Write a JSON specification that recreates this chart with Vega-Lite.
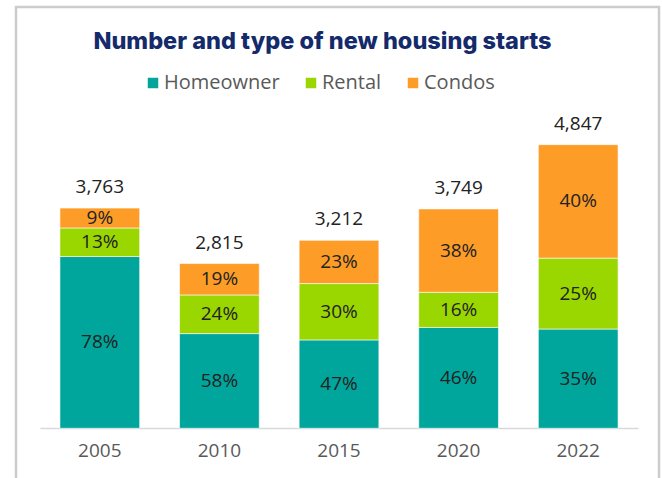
{
  "$schema": "https://vega.github.io/schema/vega-lite/v6.json",
  "width": 643,
  "height": 471,
  "autosize": {"type": "none"},
  "padding": {"left": 16, "top": 7, "right": 3, "bottom": 0},
  "background": "white",
  "config": {
    "font": "Open Sans",
    "view": {"stroke": "#cccccc", "strokeWidth": 2.5, "strokeDash": [1114, 643]}
  },
  "title": {
    "text": "Number and type of new housing starts",
    "orient": "top",
    "anchor": "middle",
    "frame": "group",
    "offset": -46,
    "dx": -15,
    "font": "Inter",
    "fontSize": 23.5,
    "fontWeight": 800,
    "color": "#142a6b"
  },
  "datasets": {
    "segments": [
      {"year": "2005", "type": "Homeowner", "order": 1, "value": 2935, "pct": "78%"},
      {"year": "2005", "type": "Rental", "order": 2, "value": 489, "pct": "13%"},
      {"year": "2005", "type": "Condos", "order": 3, "value": 339, "pct": "9%"},
      {"year": "2010", "type": "Homeowner", "order": 1, "value": 1618, "pct": "58%"},
      {"year": "2010", "type": "Rental", "order": 2, "value": 661, "pct": "24%"},
      {"year": "2010", "type": "Condos", "order": 3, "value": 536, "pct": "19%"},
      {"year": "2015", "type": "Homeowner", "order": 1, "value": 1510, "pct": "47%"},
      {"year": "2015", "type": "Rental", "order": 2, "value": 963, "pct": "30%"},
      {"year": "2015", "type": "Condos", "order": 3, "value": 739, "pct": "23%"},
      {"year": "2020", "type": "Homeowner", "order": 1, "value": 1724, "pct": "46%"},
      {"year": "2020", "type": "Rental", "order": 2, "value": 600, "pct": "16%"},
      {"year": "2020", "type": "Condos", "order": 3, "value": 1425, "pct": "38%"},
      {"year": "2022", "type": "Homeowner", "order": 1, "value": 1696, "pct": "35%"},
      {"year": "2022", "type": "Rental", "order": 2, "value": 1212, "pct": "25%"},
      {"year": "2022", "type": "Condos", "order": 3, "value": 1939, "pct": "40%"}
    ],
    "totals": [
      {"year": "2005", "total": 3763},
      {"year": "2010", "total": 2815},
      {"year": "2015", "total": 3212},
      {"year": "2020", "total": 3749},
      {"year": "2022", "total": 4847}
    ]
  },
  "encoding": {
    "x": {
      "field": "year",
      "type": "nominal",
      "sort": null,
      "scale": {"range": [24, 622], "paddingInner": 0.3333, "paddingOuter": 0.1667},
      "axis": {
        "title": null,
        "orient": "bottom",
        "offset": -50,
        "labelAngle": 0,
        "ticks": false,
        "domainColor": "#d9d9d9",
        "domainWidth": 1.5,
        "labelPadding": 13,
        "labelFontSize": 19,
        "labelColor": "#595959",
        "labelFont": "Open Sans"
      }
    }
  },
  "layer": [
    {
      "data": {"name": "segments"},
      "mark": {"type": "bar", "stroke": "white", "strokeWidth": 0.6},
      "encoding": {
        "y": {
          "field": "value",
          "type": "quantitative",
          "stack": "zero",
          "scale": {"domain": [-850, 7200], "nice": false, "zero": false},
          "axis": null
        },
        "color": {
          "field": "type",
          "type": "nominal",
          "scale": {"domain": ["Homeowner", "Rental", "Condos"], "range": ["#00a69c", "#9ad600", "#fd9c27"]},
          "legend": {
            "title": null,
            "orient": "none",
            "direction": "horizontal",
            "legendX": 127,
            "legendY": 66,
            "symbolType": "square",
            "symbolSize": 110,
            "symbolStrokeWidth": 0,
            "labelFontSize": 20,
            "labelColor": "#595959",
            "labelFont": "Open Sans",
            "labelOffset": 1,
            "columnPadding": 21
          }
        },
        "order": {"field": "order", "type": "quantitative"}
      }
    },
    {
      "data": {"name": "segments"},
      "transform": [
        {"stack": "value", "groupby": ["year"], "sort": [{"field": "order"}], "as": ["y0", "y1"]},
        {"calculate": "(datum.y0 + datum.y1) / 2", "as": "mid"}
      ],
      "mark": {"type": "text", "fontSize": 19, "color": "#222222", "baseline": "middle", "font": "Open Sans"},
      "encoding": {
        "y": {"field": "mid", "type": "quantitative", "stack": null},
        "text": {"field": "pct", "type": "nominal"}
      }
    },
    {
      "data": {"name": "totals"},
      "mark": {"type": "text", "fontSize": 19, "color": "#222222", "baseline": "middle", "dy": -21, "font": "Open Sans"},
      "encoding": {
        "y": {"field": "total", "type": "quantitative"},
        "text": {"field": "total", "type": "quantitative", "format": ","}
      }
    }
  ]
}
